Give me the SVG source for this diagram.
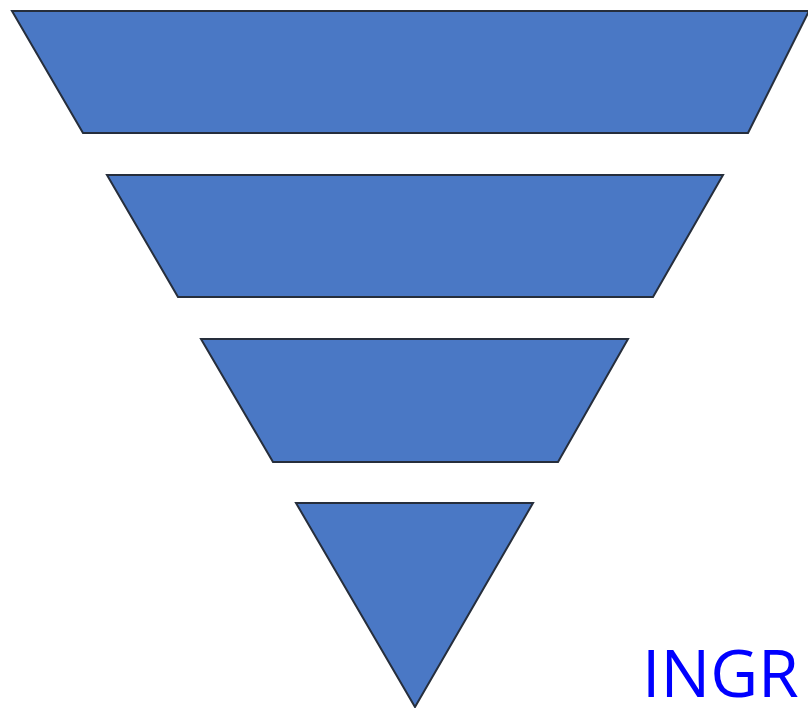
<svg xmlns="http://www.w3.org/2000/svg" width="808" height="708" viewBox="0 0 808 708">
<style>
.band{fill:#4a78c5;stroke:#262e3c;stroke-width:2;stroke-linejoin:miter}
.lbl{font-family:"Open Sans","Liberation Sans",sans-serif;font-size:66px;fill:#0000ff}
</style>
<rect width="808" height="708" fill="#ffffff"/>
<g id="level1"><polygon class="band" points="12,11 809,11 748,133 83,133"/></g>
<g id="level2"><polygon class="band" points="107,175 723,175 653,297 178,297"/></g>
<g id="level3"><polygon class="band" points="201,339 628,339 558,462 273,462"/></g>
<g id="level4"><polygon class="band" points="296,503 533,503 415,707"/></g>
<g id="connectors"></g>
<text class="lbl" x="642" y="697">INGR</text>
</svg>
